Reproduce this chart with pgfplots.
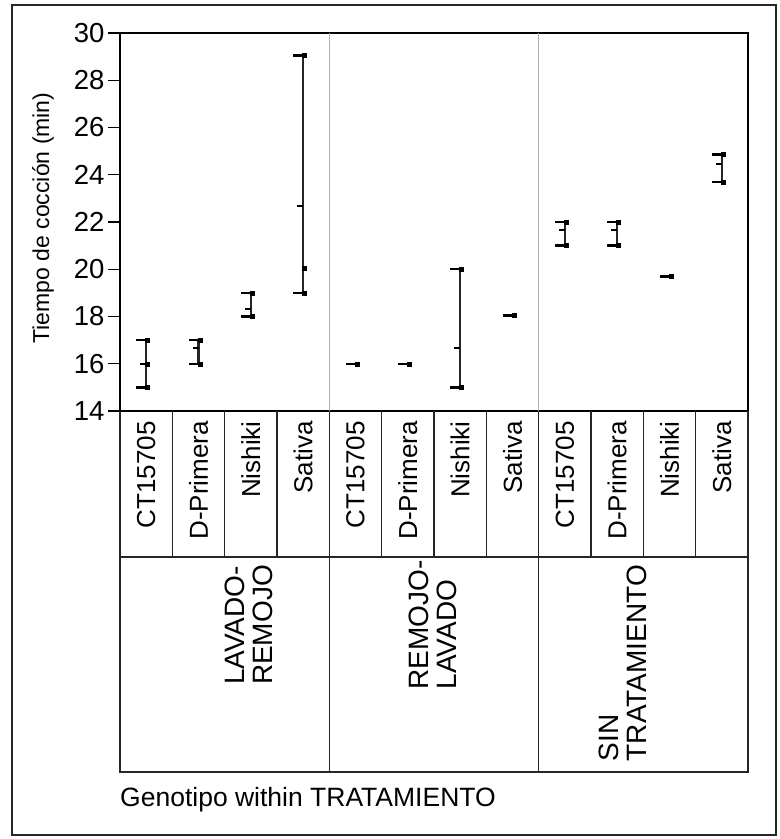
\documentclass[border=0pt]{standalone}
\usepackage{fontspec}
\setmainfont{Liberation Sans}
\usepackage{pgfplots}
\pgfplotsset{compat=1.18}
\usepackage{pgfplotstable}

\pgfplotstableread{
x lo hi mean
0.5 15 17 16
1.5 16 17 16.67
2.5 18 19 18.33
3.5 19 29.05 22.68
4.5 16 16 16
5.5 16 16 16
6.5 15 20 16.67
7.5 18.05 18.05 18.05
8.5 21 22 21.67
9.5 21 22 21.67
10.5 19.7 19.7 19.7
11.5 23.7 24.85 24.45
}\cells

\pgfplotstableread{
x y
0.5 17
0.5 16
0.5 15
1.5 17
1.5 17
1.5 16
2.5 19
2.5 18
2.5 18
3.5 29.05
3.5 20.05
3.5 19
4.5 16
4.5 16
4.5 16
5.5 16
5.5 16
5.5 16
6.5 20
6.5 15
6.5 15
7.5 18.05
7.5 18.05
7.5 18.05
8.5 22
8.5 22
8.5 21
9.5 22
9.5 22
9.5 21
10.5 19.7
10.5 19.7
10.5 19.7
11.5 24.85
11.5 24.85
11.5 23.7
}\points

\newcommand{\ticklbl}{\fontsize{27.5}{30}\selectfont}
\newcommand{\ylbl}{\fontsize{23}{27}\selectfont}
\newcommand{\glbl}{\fontsize{26}{30}\selectfont}
\newcommand{\tlbl}{\fontsize{28}{28}\selectfont}
\newcommand{\blbl}{\fontsize{26.5}{30}\selectfont}

\begin{document}
\begin{tikzpicture}[x=1pt,y=1pt]
\useasboundingbox (0,0) rectangle (780,-839);
\draw[line width=1.5pt, black!85] (12,-5) rectangle (776,-835);

\begin{axis}[
  at={(120pt,-411pt)}, anchor=south west,
  scale only axis, width=628pt, height=378pt,
  xmin=0, xmax=12, ymin=14, ymax=30,
  xtick=\empty,
  ytick={14,16,...,30},
  ytick pos=left,
  tick align=outside,
  major tick length=12pt,
  tick style={black, line width=1.2pt},
  axis line style={black, line width=1.5pt},
  yticklabel style={font=\ticklbl},
  /pgf/number format/assume math mode=true,
  clip=false,
]
\draw[gray!60, line width=1.2pt] (axis cs:4,14) -- (axis cs:4,30);
\draw[gray!60, line width=1.2pt] (axis cs:8,14) -- (axis cs:8,30);

% range bars
\addplot[draw=none, mark=none, forget plot,
  error bars/.cd, y dir=plus, y explicit, error mark=none,
  error bar style={line width=2.6pt, black!85}]
  table[x=x, y=lo, y error expr=\thisrow{hi}-\thisrow{lo}] {\cells};
% caps
\addplot[only marks, mark=-, mark size=7pt,
  mark options={xshift=-3pt, line width=2.4pt, black}] table[x=x, y=lo] {\cells};
\addplot[only marks, mark=-, mark size=7pt,
  mark options={xshift=-3pt, line width=2.4pt, black}] table[x=x, y=hi] {\cells};
% means
\addplot[only marks, mark=-, mark size=3pt,
  mark options={xshift=-3pt, line width=1.6pt, black}] table[x=x, y=mean] {\cells};
% data points
\addplot[only marks, mark=square*, mark size=2pt,
  mark options={xshift=1.5pt, black}] table[x=x, y=y] {\points};
\end{axis}

% label grid
\draw[line width=1.5pt, black!85] (120,-411) -- (120,-772) -- (748,-772) -- (748,-411);
\draw[line width=1.5pt, black!85] (120,-557) -- (748,-557);
\foreach \k in {1,2,3,5,6,7,9,10,11}
  \draw[line width=1.2pt, black!85] ({120+52.333*\k},-411) -- ({120+52.333*\k},-557);
\foreach \k in {4,8}
  \draw[line width=1.5pt, black!85] ({120+52.333*\k},-411) -- ({120+52.333*\k},-772);

\foreach \k/\n in {0/CT15705,1/D-Primera,2/Nishiki,3/Sativa,4/CT15705,5/D-Primera,6/Nishiki,7/Sativa,8/CT15705,9/D-Primera,10/Nishiki,11/Sativa}
  \node[rotate=90, anchor=east, inner sep=0pt, font=\glbl] at ({120+52.333*(\k+0.5)},-421) {\n};

\node[rotate=90, anchor=east, inner sep=0pt, align=left, font=\tlbl] at (249,-565) {LAVADO-\\REMOJO};
\node[rotate=90, anchor=east, inner sep=0pt, align=left, font=\tlbl] at (433,-560) {REMOJO-\\LAVADO};
\node[rotate=90, anchor=east, inner sep=0pt, align=left, font=\tlbl] at (623,-565) {SIN\\TRATAMIENTO};

\node[rotate=90, font=\ylbl] at (43,-218) {Tiempo de cocción (min)};
\node[anchor=west, inner sep=0pt, font=\blbl] at (120,-800) {Genotipo within TRATAMIENTO};
\end{tikzpicture}
\end{document}
